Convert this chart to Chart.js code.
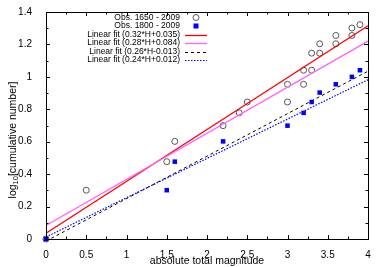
<!DOCTYPE html>
<html><head><meta charset="utf-8">
<script src="https://cdn.jsdelivr.net/npm/chart.js@4.4.1/dist/chart.umd.min.js"></script>
<style>html,body{margin:0;padding:0;background:#fff;}#c{display:block;}</style>
</head><body>
<canvas id="c" width="382" height="267"></canvas>
<script>
// Data
const obsAllH = [0, 0.5, 1.5, 1.6, 2.2, 2.4, 2.5, 3.0, 3.0, 3.2, 3.2, 3.3, 3.3, 3.4, 3.4, 3.6, 3.6, 3.8, 3.8, 3.9];
const obsAllY = [0, 0.301, 0.477, 0.602, 0.699, 0.778, 0.845, 0.845, 0.954, 0.954, 1.041, 1.041, 1.146, 1.146, 1.204, 1.204, 1.255, 1.255, 1.301, 1.322];
const obs1800H = [0, 1.5, 1.6, 2.2, 3.0, 3.2, 3.3, 3.4, 3.6, 3.8, 3.9];
const obs1800Y = [0, 0.301, 0.477, 0.602, 0.699, 0.778, 0.845, 0.903, 0.954, 1.0, 1.041];
const fitH = [0, 4];
const fitRedY = [0.035, 1.315];
const fitPinkY = [0.084, 1.22];
const fitBlackY = [-0.013, 1.035];
const fitBlueY = [0.012, 0.982];
const labels = ['Obs. 1650 - 2009', 'Obs. 1800 - 2009', 'Linear fit (0.32*H+0.035)', 'Linear fit (0.28*H+0.084)', 'Linear fit (0.26*H-0.013)', 'Linear fit (0.24*H+0.012)'];
const xTicks = [0, 0.5, 1, 1.5, 2, 2.5, 3, 3.5, 4];
const yTicks = [0, 0.2, 0.4, 0.6, 0.8, 1, 1.2, 1.4];

const pts = (xs, ys) => xs.map((x, i) => ({x: x, y: ys[i]}));
const FONT = 'Liberation Sans, Arial, sans-serif';

const framePlugin = {
  id: 'frame',
  afterDatasetsDraw(chart) {
    const ctx = chart.ctx, a = chart.chartArea;
    const xs = chart.scales.x, ys = chart.scales.y;
    ctx.save();
    ctx.strokeStyle = '#000';
    ctx.lineWidth = 1;
    ctx.beginPath();
    xTicks.forEach((v, i) => {
      const px = Math.round(xs.getPixelForValue(v)) + 0.5;
      ctx.moveTo(px, a.bottom); ctx.lineTo(px, a.bottom - 4);
      ctx.moveTo(px, a.top); ctx.lineTo(px, a.top + 4);
      if (i < xTicks.length - 1) {
        const pm = Math.round(xs.getPixelForValue((v + xTicks[i + 1]) / 2)) + 0.5;
        ctx.moveTo(pm, a.bottom); ctx.lineTo(pm, a.bottom - 2.5);
        ctx.moveTo(pm, a.top); ctx.lineTo(pm, a.top + 2.5);
      }
    });
    yTicks.forEach((v, i) => {
      const py = Math.round(ys.getPixelForValue(v)) + 0.5;
      ctx.moveTo(a.left, py); ctx.lineTo(a.left + 4, py);
      ctx.moveTo(a.right, py); ctx.lineTo(a.right - 4, py);
      if (i < yTicks.length - 1) {
        const pm = Math.round(ys.getPixelForValue((v + yTicks[i + 1]) / 2)) + 0.5;
        ctx.moveTo(a.left, pm); ctx.lineTo(a.left + 2.5, pm);
        ctx.moveTo(a.right, pm); ctx.lineTo(a.right - 2.5, pm);
      }
    });
    ctx.stroke();
    ctx.strokeRect(Math.round(a.left) + 0.5, Math.round(a.top) + 0.5, Math.round(a.right - a.left), Math.round(a.bottom - a.top));
    ctx.restore();
  },
  afterDraw(chart) {
    const ctx = chart.ctx;
    ctx.save();
    ctx.font = '8.5px ' + FONT;
    ctx.textAlign = 'right';
    ctx.textBaseline = 'middle';
    ctx.fillStyle = '#000';
    const rows = [17.5, 26, 34.5, 43, 51.5, 60];
    const tx = 180, s0 = 185, s1 = 207;
    chart.data.datasets.forEach((ds, i) => {
      const y = rows[i];
      ctx.fillText(ds.label, tx, y);
      ctx.save();
      if (i === 0) {
        ctx.strokeStyle = ds.borderColor; ctx.lineWidth = 1;
        ctx.beginPath(); ctx.arc(196, y, 3, 0, Math.PI * 2); ctx.stroke();
      } else if (i === 1) {
        ctx.fillStyle = ds.backgroundColor;
        ctx.fillRect(193.5, y - 2.5, 5, 5);
      } else {
        ctx.strokeStyle = ds.borderColor; ctx.lineWidth = ds.borderWidth;
        ctx.setLineDash(ds.borderDash || []);
        ctx.beginPath(); ctx.moveTo(s0, Math.round(y) + 0.5); ctx.lineTo(s1, Math.round(y) + 0.5); ctx.stroke();
      }
      ctx.restore();
    });
    ctx.translate(13, 140);
    ctx.rotate(-Math.PI / 2);
    ctx.textAlign = 'left';
    ctx.textBaseline = 'middle';
    const big = '10.5px ' + FONT, small = '7.5px ' + FONT;
    ctx.font = big; const w1 = ctx.measureText('log').width;
    ctx.font = small; const w2 = ctx.measureText('10').width;
    ctx.font = big; const w3 = ctx.measureText('[cumulative number]').width;
    let x0 = -(w1 + w2 + w3) / 2;
    ctx.font = big; ctx.fillText('log', x0, 0);
    ctx.font = small; ctx.fillText('10', x0 + w1, 3);
    ctx.font = big; ctx.fillText('[cumulative number]', x0 + w1 + w2, 0);
    ctx.restore();
  }
};

new Chart(document.getElementById('c'), {
  type: 'scatter',
  data: {
    datasets: [
      {label: labels[0], data: pts(obsAllH, obsAllY), pointStyle: 'circle', pointRadius: 3, pointBorderWidth: 1,
       borderColor: '#555', backgroundColor: 'rgba(0,0,0,0)', showLine: false, order: 6, clip: false},
      {label: labels[1], data: pts(obs1800H, obs1800Y), pointStyle: 'rect', pointRadius: 3.2, pointBorderWidth: 0,
       borderColor: '#0000ff', backgroundColor: '#0000ff', showLine: false, order: 5, clip: false},
      {label: labels[2], data: pts(fitH, fitRedY), showLine: true, borderColor: '#ff0000', borderWidth: 1.3, pointRadius: 0, order: 4},
      {label: labels[3], data: pts(fitH, fitPinkY), showLine: true, borderColor: '#ff66ff', borderWidth: 1.3, pointRadius: 0, order: 3},
      {label: labels[4], data: pts(fitH, fitBlackY), showLine: true, borderColor: '#000000', borderWidth: 1, borderDash: [3, 3], pointRadius: 0, order: 2},
      {label: labels[5], data: pts(fitH, fitBlueY), showLine: true, borderColor: '#0000ff', borderWidth: 1.2, borderDash: [1.5, 1.5], pointRadius: 0, order: 1}
    ]
  },
  options: {
    responsive: false,
    animation: false,
    events: [],
    layout: {padding: {left: 0, right: 14, top: 11, bottom: 0}},
    plugins: {legend: {display: false}, tooltip: {enabled: false}},
    scales: {
      x: {
        type: 'linear', min: 0, max: 4,
        grid: {display: false}, border: {display: false},
        afterBuildTicks: s => { s.ticks = xTicks.map(v => ({value: v})); },
        afterFit: s => { s.height = 28; },
        ticks: {color: '#000', font: {family: FONT, size: 10}, padding: 2, maxRotation: 0, autoSkip: false,
                callback: v => String(v)},
        title: {display: true, text: 'absolute total magnitude', color: '#000', font: {family: FONT, size: 10.5}, padding: {top: 0, bottom: 0}}
      },
      y: {
        type: 'linear', min: 0, max: 1.4,
        grid: {display: false}, border: {display: false},
        afterBuildTicks: s => { s.ticks = yTicks.map(v => ({value: v})); },
        afterFit: s => { s.width = 46; },
        ticks: {color: '#000', font: {family: FONT, size: 10}, padding: 6, autoSkip: false,
                callback: v => String(Math.round(v * 10) / 10)}
      }
    }
  },
  plugins: [framePlugin]
});
</script>
</body></html>
